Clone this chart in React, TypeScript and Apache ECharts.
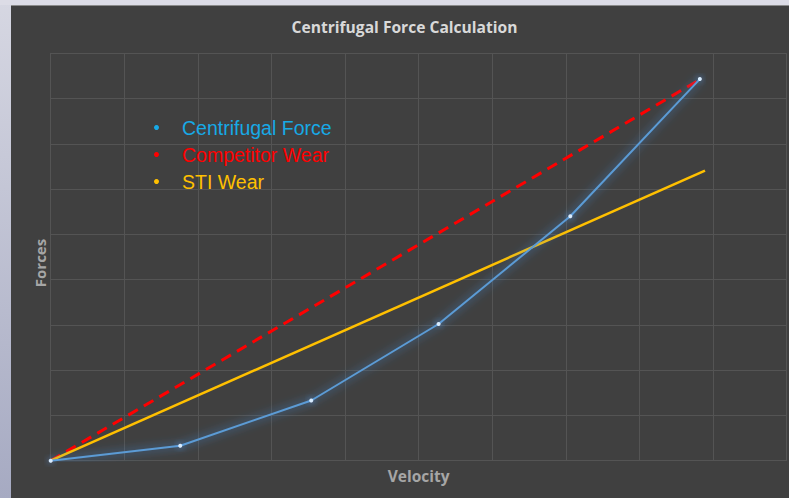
import React, { useEffect, useRef } from "react";
import * as echarts from "echarts";

const titleText = "Centrifugal Force Calculation";
const xName = "Velocity";
const yName = "Forces";
const seriesNames = ["Centrifugal Force", "Competitor Wear", "STI Wear"];
const centrifugalX = [0, 1.76, 3.54, 5.27, 7.06, 8.82];
const centrifugalY = [0, 0.33, 1.33, 3.02, 5.4, 8.43];
const competitorX = [0, 8.82];
const competitorY = [0, 8.42];
const stiX = [0, 8.89];
const stiY = [0, 6.41];

const pairs = (xs: number[], ys: number[]) => xs.map((x, i) => [x, ys[i]]);

export default function App() {
  const ref = useRef<HTMLDivElement>(null);
  useEffect(() => {
    if (!ref.current) return;
    const chart = echarts.init(ref.current, undefined, { renderer: "svg" });
    const gridColor = "#545454";
    chart.setOption({
      animation: false,
      backgroundColor: "#404040",
      graphic: [
        {
          type: "rect",
          shape: { x: 0, y: 0, width: 11, height: 498 },
          style: {
            fill: new echarts.graphic.LinearGradient(0, 0, 0, 1, [
              { offset: 0, color: "#d6d7e2" },
              { offset: 1, color: "#a6aac2" },
            ]),
          },
          silent: true,
        },
        {
          type: "rect",
          shape: { x: 0, y: 0, width: 789, height: 5 },
          style: { fill: "#dcdce6" },
          silent: true,
        },
        {
          type: "rect",
          shape: { x: 11, y: 5, width: 778, height: 1 },
          style: { fill: "#8a8a8a" },
          silent: true,
        },
        {
          type: "text",
          x: 404.5,
          y: 27,
          style: {
            text: titleText,
            fill: "#d9d9d9",
            fontSize: 15.6,
            fontWeight: "bold",
            fontFamily: "Open Sans",
            textAlign: "center",
            textVerticalAlign: "middle",
          },
        },
        {
          type: "text",
          x: 40,
          y: 263,
          rotation: Math.PI / 2,
          style: {
            text: yName,
            fill: "#a6a6a6",
            fontSize: 15,
            fontWeight: "bold",
            fontFamily: "Open Sans",
            textAlign: "center",
            textVerticalAlign: "middle",
          },
        },
      ],
      legend: {
        orient: "vertical",
        left: 154,
        top: 117,
        icon: "circle",
        itemWidth: 5,
        itemHeight: 5,
        itemGap: 6,
        padding: 0,
        textStyle: { fontSize: 19.5, fontFamily: "Liberation Sans", padding: [0, 0, 0, 18], lineHeight: 21 },
        data: [
          { name: seriesNames[0], itemStyle: { color: "#17a9e6" }, textStyle: { color: "#17a9e6" } },
          { name: seriesNames[1], itemStyle: { color: "#ff0000" }, textStyle: { color: "#ff0000" } },
          { name: seriesNames[2], itemStyle: { color: "#ffc000" }, textStyle: { color: "#ffc000" } },
        ],
      },
      grid: { left: 50.7, right: 2.3, top: 53.3, bottom: 37.3 },
      xAxis: {
        type: "value",
        min: 0,
        max: 10,
        interval: 1,
        name: xName,
        nameLocation: "middle",
        nameGap: 15,
        nameTextStyle: { color: "#a6a6a6", fontSize: 15.5, fontWeight: "bold", fontFamily: "Open Sans", verticalAlign: "middle" },
        axisLine: { show: true, lineStyle: { color: gridColor } },
        axisTick: { show: false },
        axisLabel: { show: false },
        splitLine: { show: true, lineStyle: { color: gridColor, width: 1 } },
      },
      yAxis: {
        type: "value",
        min: 0,
        max: 9,
        interval: 1,
        axisLine: { show: true, lineStyle: { color: gridColor } },
        axisTick: { show: false },
        axisLabel: { show: false },
        splitLine: { show: true, lineStyle: { color: gridColor, width: 1 } },
      },
      series: [
        {
          name: seriesNames[1],
          type: "line",
          data: pairs(competitorX, competitorY),
          symbol: "none",
          lineStyle: { color: "#ff0000", width: 3, type: [11, 7] },
          itemStyle: { color: "#ff0000" },
          z: 2,
        },
        {
          name: seriesNames[2],
          type: "line",
          data: pairs(stiX, stiY),
          symbol: "none",
          lineStyle: { color: "#ffc000", width: 2.5 },
          itemStyle: { color: "#ffc000" },
          z: 3,
        },
        {
          name: seriesNames[0],
          type: "line",
          data: pairs(centrifugalX, centrifugalY),
          symbol: "circle",
          symbolSize: 4,
          showSymbol: true,
          lineStyle: { color: "#5b9bd5", width: 2, shadowBlur: 10, shadowColor: "#3f8fe0" },
          itemStyle: { color: "#d8ecff", borderWidth: 0, shadowBlur: 6, shadowColor: "#5fa8ff" },
          z: 4,
        },
      ],
    });
    return () => chart.dispose();
  }, []);
  return (
    <div style={{ position: "fixed", left: 0, top: 0, width: 789, height: 498 }}>
      <div ref={ref} style={{ width: 789, height: 498 }} />
    </div>
  );
}
